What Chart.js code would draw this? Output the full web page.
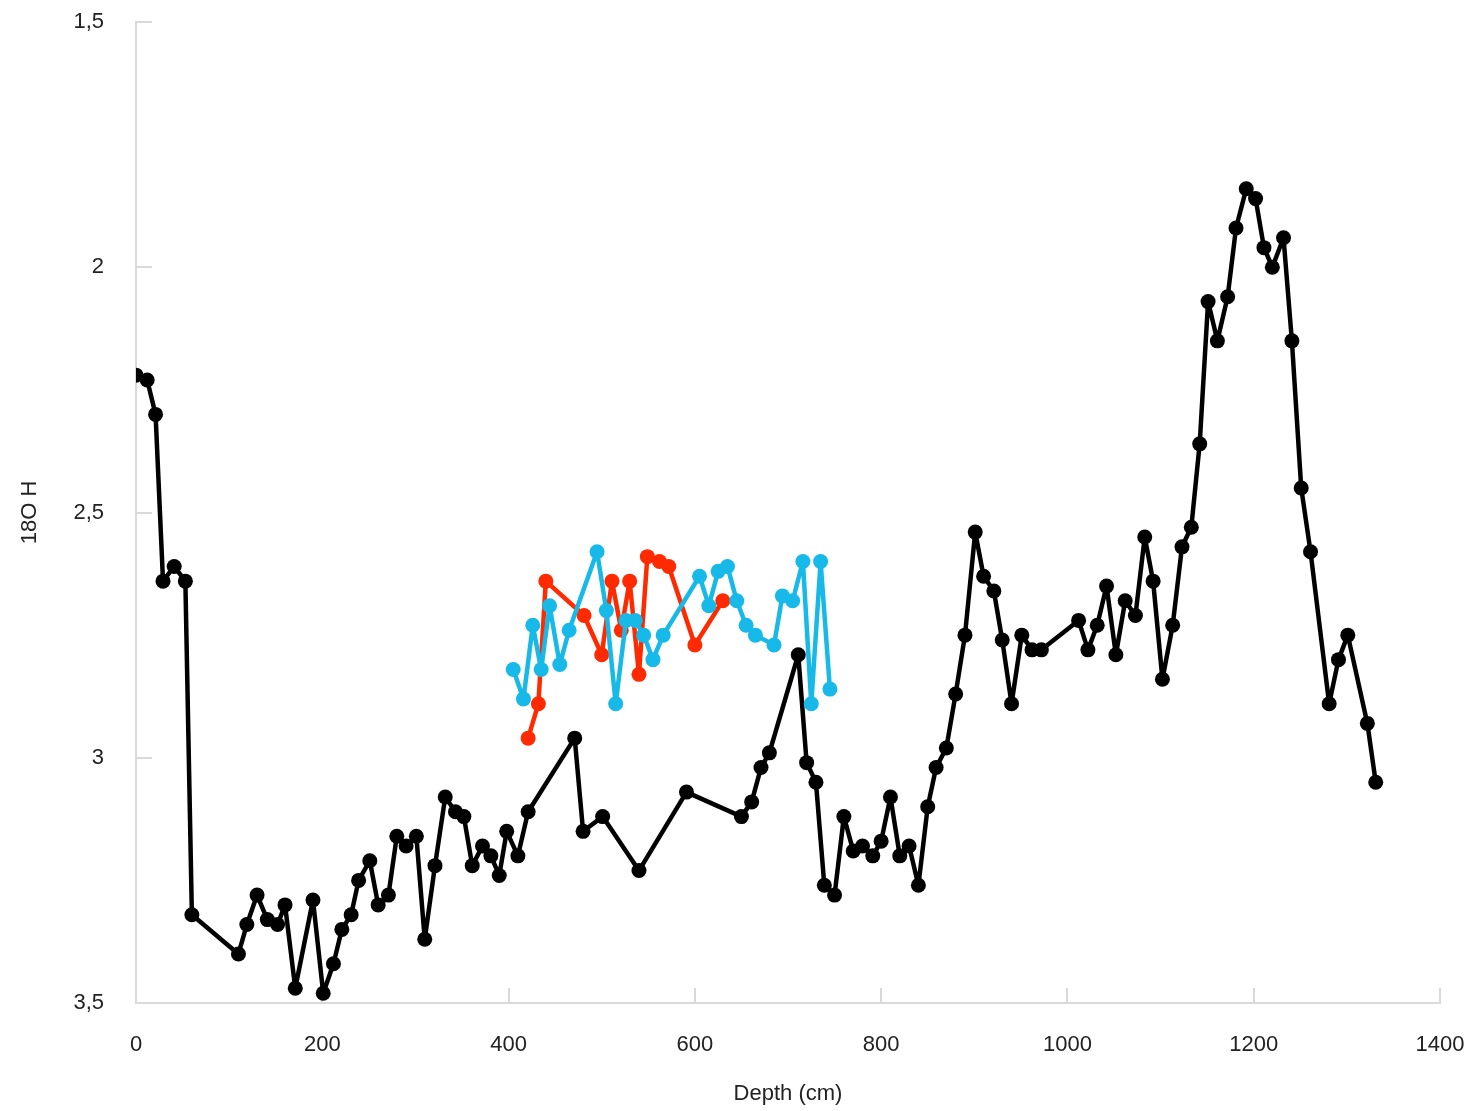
<!DOCTYPE html>
<html><head><meta charset="utf-8">
<script src="https://cdn.jsdelivr.net/npm/chart.js@4/dist/chart.umd.min.js"></script>
<style>html,body{margin:0;padding:0;background:#fff}#wrap{width:1474px;height:1111px}</style>
</head><body><div id="wrap"><canvas id="c"></canvas></div>
<script>
const blackDepth = [0,12,21,29,41,53,60,110,119,130,141,152,160,171,190,201,212,221,231,239,251,260,271,280,290,301,310,321,332,343,352,361,372,381,390,398,410,421,471,480,501,540,591,650,661,671,680,711,720,730,739,750,760,770,780,791,800,810,820,830,840,850,859,870,880,890,901,910,921,930,940,951,962,972,1012,1022,1032,1042,1052,1062,1073,1083,1092,1102,1113,1123,1133,1142,1151,1161,1172,1181,1192,1202,1211,1220,1232,1241,1251,1261,1281,1291,1301,1322,1331];
const blackValue = [2.22,2.23,2.30,2.64,2.61,2.64,3.32,3.40,3.34,3.28,3.33,3.34,3.30,3.47,3.29,3.48,3.42,3.35,3.32,3.25,3.21,3.30,3.28,3.16,3.18,3.16,3.37,3.22,3.08,3.11,3.12,3.22,3.18,3.20,3.24,3.15,3.20,3.11,2.96,3.15,3.12,3.23,3.07,3.12,3.09,3.02,2.99,2.79,3.01,3.05,3.26,3.28,3.12,3.19,3.18,3.20,3.17,3.08,3.20,3.18,3.26,3.10,3.02,2.98,2.87,2.75,2.54,2.63,2.66,2.76,2.89,2.75,2.78,2.78,2.72,2.78,2.73,2.65,2.79,2.68,2.71,2.55,2.64,2.84,2.73,2.57,2.53,2.36,2.07,2.15,2.06,1.92,1.84,1.86,1.96,2.00,1.94,2.15,2.45,2.58,2.89,2.80,2.75,2.93,3.05];
const redDepth = [421,432,440,481,500,511,521,530,540,549,562,572,600,630];
const redValue = [2.96,2.89,2.64,2.71,2.79,2.64,2.74,2.64,2.83,2.59,2.60,2.61,2.77,2.68];
const cyanDepth = [405,416,426,435,444,455,465,495,505,515,526,536,545,555,566,605,615,625,635,645,655,665,685,694,705,716,725,735,745];
const cyanValue = [2.82,2.88,2.73,2.82,2.69,2.81,2.74,2.58,2.70,2.89,2.72,2.72,2.75,2.80,2.75,2.63,2.69,2.62,2.61,2.68,2.73,2.75,2.77,2.67,2.68,2.60,2.89,2.60,2.86];
const xTicks = [0,200,400,600,800,1000,1200,1400];
const yTicks = [1.5,2,2.5,3,3.5];

const pts = (xs, ys) => xs.map((x, i) => ({x, y: ys[i]}));
const font = {family: '"Liberation Sans", Arial, sans-serif', size: 22};
const axisGray = '#d9d9d9';
const textColor = '#222';

function ds(label, xs, ys, color, order) {
  return {label, data: pts(xs, ys), showLine: true, borderColor: color, backgroundColor: color,
    pointBackgroundColor: color, pointBorderColor: color, borderWidth: 4.5, pointRadius: 7.5,
    pointBorderWidth: 0, tension: 0, borderJoinStyle: 'round', borderCapStyle: 'round', order};
}

new Chart(document.getElementById('c'), {
  type: 'scatter',
  data: {datasets: [
    ds('cyan', cyanDepth, cyanValue, '#17b9e8', 1),
    ds('red', redDepth, redValue, '#ff2a00', 2),
    ds('black', blackDepth, blackValue, '#000000', 3)
  ]},
  options: {
    responsive: true, maintainAspectRatio: false, animation: false,
    layout: {padding: {top: 22, right: 34, left: 0, bottom: 0}},
    plugins: {legend: {display: false}, tooltip: {enabled: false}},
    scales: {
      x: {type: 'linear', min: 0, max: 1400,
        afterBuildTicks: s => { s.ticks = xTicks.map(v => ({value: v})); },
        afterFit: s => { s.height = 108; s.paddingLeft = 0; s.paddingRight = 0; },
        border: {color: axisGray, width: 2},
        grid: {drawOnChartArea: false, color: axisGray, lineWidth: 2, tickLength: -15},
        ticks: {font, color: textColor, padding: 44, maxRotation: 0, callback: v => String(v)},
        title: {display: true, text: 'Depth (cm)', font, color: textColor, padding: {top: 8, bottom: 4}}
      },
      y: {type: 'linear', reverse: true, min: 1.5, max: 3.5,
        afterBuildTicks: s => { s.ticks = yTicks.map(v => ({value: v})); },
        afterFit: s => { s.width = 136; s.paddingTop = 0; s.paddingBottom = 0; },
        border: {color: axisGray, width: 2},
        grid: {drawOnChartArea: false, color: axisGray, lineWidth: 2, tickLength: -16},
        ticks: {font, color: textColor, padding: 48, callback: v => String(v).replace('.', ',')},
        title: {display: true, text: '18O H', font, color: textColor, padding: {top: 17, bottom: 0}}
      }
    }
  }
});
</script></body></html>
